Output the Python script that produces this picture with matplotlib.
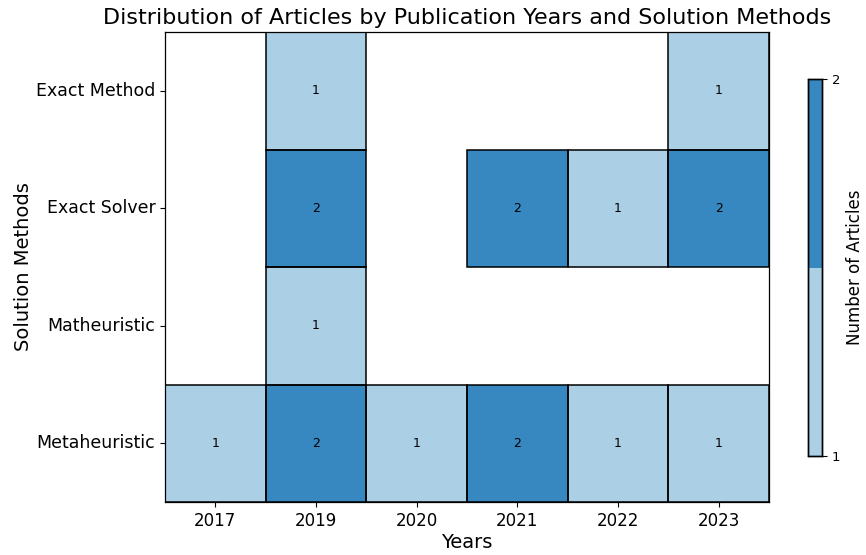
import numpy as np
import pandas as pd
import matplotlib
matplotlib.use("Agg")
import matplotlib.pyplot as plt
import seaborn as sns
from matplotlib.colors import ListedColormap
from matplotlib.patches import Rectangle

years = ["2017", "2019", "2020", "2021", "2022", "2023"]
methods = ["Exact Method", "Exact Solver", "Matheuristic", "Metaheuristic"]
exact_method = [0, 1, 0, 0, 0, 1]
exact_solver = [0, 2, 0, 2, 1, 2]
matheuristic = [0, 1, 0, 0, 0, 0]
metaheuristic = [1, 2, 1, 2, 1, 1]

tbl = pd.DataFrame([exact_method, exact_solver, matheuristic, metaheuristic],
                   index=methods, columns=years)

fig = plt.figure(figsize=(8.66, 5.55), dpi=100)
ax = fig.add_axes([165/866, 53/555, 604/866, 470/555])
cax = fig.add_axes([808/866, 99/555, 14/866, 377/555])

cmap = ListedColormap(sns.color_palette("Blues", 2))
sns.heatmap(tbl, mask=(tbl == 0), cmap=cmap, vmin=1, vmax=2,
            annot=True, fmt="d", annot_kws={"size": 9, "color": "black"},
            linewidths=0, ax=ax, cbar_ax=cax,
            cbar_kws={"ticks": [1, 2]})

# outline only the filled cells
for i in range(len(methods)):
    for j in range(len(years)):
        if tbl.iloc[i, j] > 0:
            ax.add_patch(Rectangle((j, i), 1, 1, fill=False,
                                   edgecolor="black", lw=1.1, zorder=3))

# keep the frame around the grid
for s in ax.spines.values():
    s.set_visible(True)
    s.set_color("black")
    s.set_linewidth(0.9)

ax.set_title("Distribution of Articles by Publication Years and Solution Methods", fontsize=16)
ax.set_xlabel("Years", fontsize=14, labelpad=2)
ax.set_ylabel("Solution Methods", fontsize=14, labelpad=2)
ax.tick_params(axis="x", labelsize=12, rotation=0)
ax.tick_params(axis="y", labelsize=12.5, rotation=0)

cax.tick_params(labelsize=9.5)
cax.set_ylabel("Number of Articles", fontsize=12, labelpad=4)
for s in cax.spines.values():
    s.set_visible(True)
    s.set_color("black")
    s.set_linewidth(1)

fig.savefig("out.png", dpi=100)
